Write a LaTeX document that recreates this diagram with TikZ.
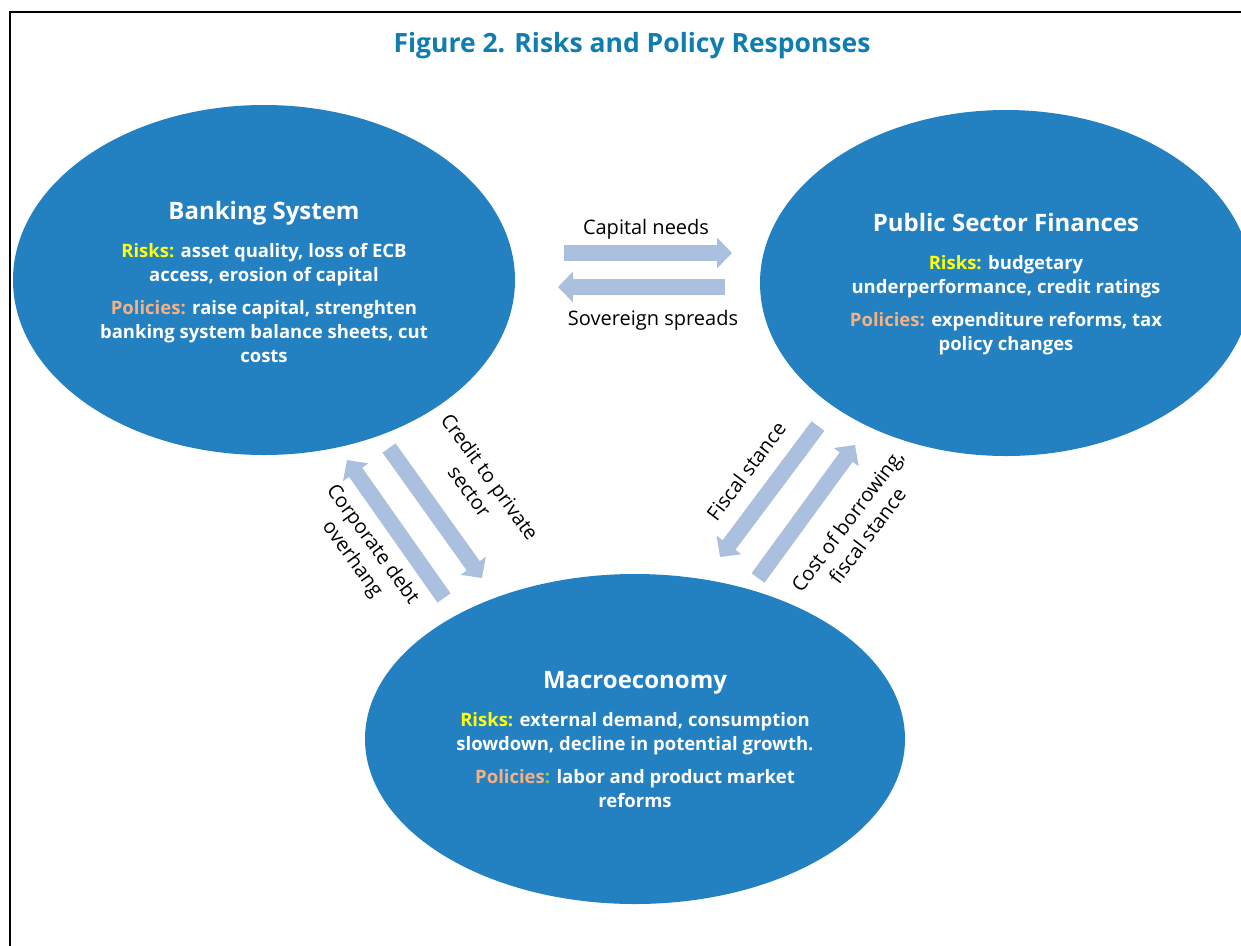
\documentclass[tikz,border=0pt]{standalone}
\usepackage{fontspec}
\setmainfont{Open Sans}
\usetikzlibrary{shapes.geometric,arrows.meta}
\definecolor{ellblue}{RGB}{36,129,193}
\definecolor{arrblue}{RGB}{170,192,222}
\definecolor{titleblue}{RGB}{16,125,176}
\definecolor{risky}{RGB}{255,255,0}
\definecolor{policy}{RGB}{244,177,131}
\definecolor{colongreen}{RGB}{146,208,80}
\tikzset{
  bubble/.style={ellipse, fill=ellblue, inner sep=0pt},
  bubtext/.style={text=white, inner sep=0pt, align=center,
    font=\bfseries\fontsize{18.5}{24}\selectfont},
  flow/.style={draw=arrblue, line width=16pt, line cap=butt,
    -{Triangle[width=30pt,length=15pt]}},
  lbl/.style={font=\fontsize{20}{25}\selectfont, text=black, align=center, inner sep=0pt},
}
\newcommand{\bhead}[1]{{\fontsize{24}{28}\selectfont #1}\\[14pt]}
\begin{document}
\begin{tikzpicture}[x=1pt,y=-1pt]
\useasboundingbox (0,0) rectangle (1241,945);
\fill[white] (0,0) rectangle (1241,945);
\coordinate (fbl) at (10,960);
\coordinate (ftl) at (10,12);
\coordinate (ftr) at (1260,12);
\draw[line width=2.2pt] (fbl) -- (ftl) -- (ftr);

\node[font=\bfseries\fontsize{26.5}{30}\selectfont, text=titleblue] (title) at (632,46) {Figure 2. Risks and Policy Responses};

\node[bubble, minimum width=502pt, minimum height=350pt] (bank) at (264,280) {};
\node[bubtext] (bankT) at (264,282) {%
\bhead{Banking System}%
\textcolor{risky}{Risks:} asset quality, loss of ECB\\
access, erosion of capital\\[9pt]
\textcolor{policy}{Policies:} raise capital, strenghten\\
banking system balance sheets, cut\\
costs};

\node[bubble, minimum width=492pt, minimum height=346pt] (pub) at (1006,283) {};
\node[bubtext] (pubT) at (1006,284) {%
\bhead{Public Sector Finances}%
\textcolor{risky}{Risks:} budgetary\\
underperformance, credit ratings\\[9pt]
\textcolor{policy}{Policies:} expenditure reforms, tax\\
policy changes};

\node[bubble, minimum width=540pt, minimum height=330pt] (macro) at (635,739) {};
\node[bubtext] (macroT) at (635,740) {%
\bhead{Macroeconomy}%
\textcolor{risky}{Risks:} external demand, consumption\\
slowdown, decline in potential growth.\\[9pt]
\textcolor{policy}{Policies}\textcolor{colongreen}{:} labor and product market\\
reforms};

% horizontal arrows
\coordinate (capA) at (564,253);
\coordinate (capB) at (732,253);
\coordinate (sovA) at (725,287);
\coordinate (sovB) at (558,287);
\draw[flow] (capA) -- (capB);
\draw[flow] (sovA) -- (sovB);
\node[lbl] (capL) at (646,229) {Capital needs};
\node[lbl] (sovL) at (653,320) {Sovereign spreads};

% bank <-> macro
\coordinate (credA) at (389,448);
\coordinate (credB) at (482,578);
\coordinate (corpA) at (444,598);
\coordinate (corpB) at (347,460);
\draw[flow] (credA) -- (credB);
\draw[flow] (corpA) -- (corpB);
\node[lbl, rotate=-54] (credL) at (480,484) {Credit to private\\sector};
\node[lbl, rotate=-54] (corpL) at (362,552) {Corporate debt\\overhang};

% pub <-> macro
\coordinate (fisA) at (818,426);
\coordinate (fisB) at (720,557);
\coordinate (costA) at (758,578);
\coordinate (costB) at (855,445);
\draw[flow] (fisA) -- (fisB);
\draw[flow] (costA) -- (costB);
\node[lbl, rotate=53] (fisL) at (746,471) {Fiscal stance};
\node[lbl, rotate=53] (costL) at (857,528) {Cost of borrowing,\\fiscal stance};
\end{tikzpicture}
\end{document}
